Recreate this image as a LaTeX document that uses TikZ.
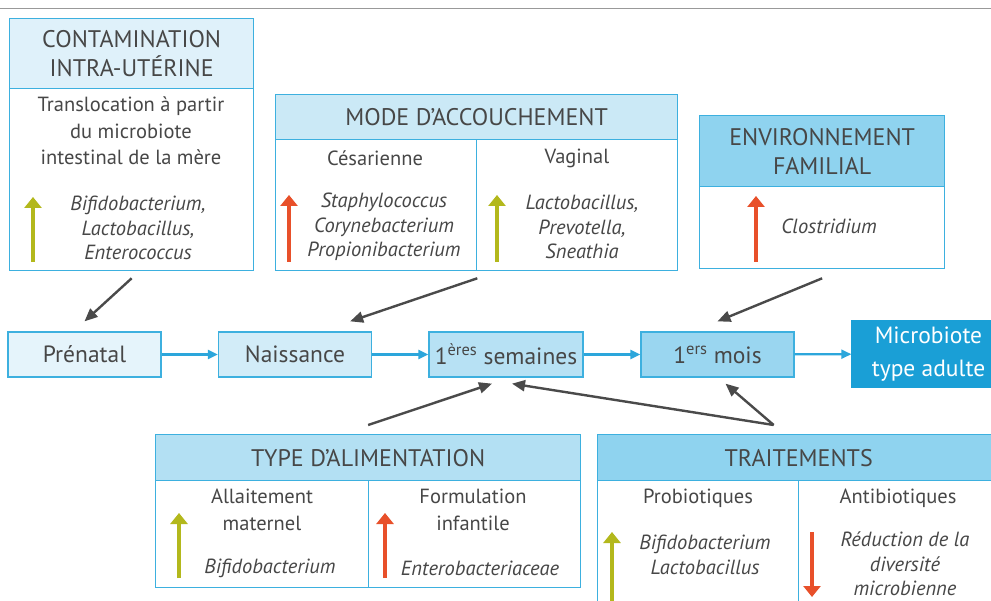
\documentclass[tikz,border=0pt]{standalone}
\usepackage{fontspec}
\setmainfont{PT Sans}
\usepackage{xcolor}
\usetikzlibrary{arrows.meta}
\definecolor{bord}{HTML}{3DB0DF}
\definecolor{txtgray}{HTML}{474747}
\definecolor{hdrpale}{HTML}{DFF1FA}
\definecolor{hdrlight}{HTML}{CBE9F6}
\definecolor{hdrmid}{HTML}{B3E0F3}
\definecolor{hdrdark}{HTML}{8FD3EF}
\definecolor{stepA}{HTML}{E5F4FB}
\definecolor{stepB}{HTML}{D2ECF8}
\definecolor{stepC}{HTML}{B7E1F4}
\definecolor{stepD}{HTML}{9AD6F0}
\definecolor{stepE}{HTML}{1A9FD6}
\definecolor{upgreen}{HTML}{B3B81C}
\definecolor{upred}{HTML}{E8502A}
\definecolor{flowblue}{HTML}{2CA6DB}
\definecolor{infl}{HTML}{4A4A4A}
\newcommand{\hdrsize}{\fontsize{24}{29}\selectfont}
\newcommand{\txtsize}{\fontsize{20.5}{26.5}\selectfont}
\newcommand{\bactsize}{\fontsize{20.5}{24.5}\selectfont\itshape}
\newcommand{\stepsize}{\fontsize{23.5}{33}\selectfont}
\tikzstyle{panel} = [draw=bord, line width=1.3pt, inner sep=0pt, anchor=north west, fill=white]
\tikzstyle{hdr} = [panel, text=txtgray, align=center, font=\hdrsize]
\tikzstyle{txt} = [text=txtgray, align=center, font=\txtsize, inner sep=0pt]
\tikzstyle{bact} = [text=txtgray, align=center, font=\bactsize, inner sep=0pt]
\tikzstyle{stepbox} = [draw=bord, line width=1.3pt, minimum width=153pt, minimum height=45pt, text=txtgray, font=\stepsize, inner sep=0pt]
\tikzstyle{flow} = [draw=flowblue, line width=2.2pt, -{Triangle[length=10pt,width=9pt]}]
\tikzstyle{influence} = [draw=infl, line width=2.4pt, -{Triangle[length=13pt,width=11pt]}]
\tikzstyle{bactarrow} = [line width=3.6pt, -{Triangle[length=11pt,width=17pt]}]

\begin{document}
\begin{tikzpicture}[x=1pt, y=-1pt]
    \useasboundingbox (0,0) rectangle (991,601);
    \clip (0,0) rectangle (991,601);
    \fill[white] (0,0) rectangle (991,601);
    \draw[gray!80, line width=1pt] (0,9) -- (991,9);

    \node[hdr, fill=hdrpale, minimum width=244pt, minimum height=70pt] (contamH) at (9,18) {CONTAMINATION\\INTRA-UTÉRINE};
    \node[panel, minimum width=244pt, minimum height=182pt] (contamB) at (9,88) {};
    \node[txt] (contamTxt) at (131,131) {Translocation à partir\\du microbiote\\intestinal de la mère};
    \node[bact] (contamBact) at (138,228) {Bifidobacterium,\\Lactobacillus,\\Enterococcus};
    \draw[bactarrow, upgreen] (33,262) -- (33,197);

    \node[hdr, fill=hdrlight, minimum width=402pt, minimum height=45pt] (modeH) at (275,94) {MODE D’ACCOUCHEMENT};
    \node[panel, minimum width=201pt, minimum height=131pt] (modeL) at (275,139) {};
    \node[panel, minimum width=201pt, minimum height=131pt] (modeR) at (476,139) {};
    \node[txt] (cesar) at (375,158) {Césarienne};
    \node[txt] (vaginal) at (577,158) {Vaginal};
    \node[bact] (cesarBact) at (384,227) {Staphylococcus\\Corynebacterium\\Propionibacterium};
    \node[bact] (vagBact) at (582,227) {Lactobacillus,\\Prevotella,\\Sneathia};
    \draw[bactarrow, upred] (289,262) -- (289,195);
    \draw[bactarrow, upgreen] (497,262) -- (497,195);

    \node[hdr, fill=hdrdark, minimum width=245pt, minimum height=71pt] (envH) at (699,115) {ENVIRONNEMENT\\FAMILIAL};
    \node[panel, minimum width=245pt, minimum height=82pt] (envB) at (699,186) {};
    \node[bact] (envBact) at (829,226) {Clostridium};
    \draw[bactarrow, upred] (756,262) -- (756,196);

    \node[stepbox, fill=stepA] (prenatal) at (84.5,354.5) {Prénatal};
    \node[stepbox, fill=stepB] (naissance) at (295,354.5) {Naissance};
    \node[stepbox, fill=stepC, minimum width=154pt] (semaines) at (506,354.5) {1\textsuperscript{ères} semaines};
    \node[stepbox, fill=stepD] (mois) at (717.5,354.5) {1\textsuperscript{ers} mois};
    \node[stepbox, draw=stepE, fill=stepE, text=white, align=center, minimum height=66pt] (adulte) at (928.5,354) {Microbiote\\type adulte};
    \draw[flow] (prenatal) -- (naissance);
    \draw[flow] (naissance) -- (semaines);
    \draw[flow] (semaines) -- (mois);
    \draw[flow] (mois) -- (adulte);

    \node[hdr, fill=hdrmid, minimum width=425pt, minimum height=46pt] (typeH) at (155,434) {TYPE D’ALIMENTATION};
    \node[panel, minimum width=213pt, minimum height=107pt] (typeL) at (155,480) {};
    \node[panel, minimum width=212pt, minimum height=107pt] (typeR) at (368,480) {};
    \node[txt] (allait) at (262,510) {Allaitement\\maternel};
    \node[bact] (allaitBact) at (270,568) {Bifidobacterium};
    \node[txt] (formul) at (473,510) {Formulation\\infantile};
    \node[bact] (formulBact) at (480,568) {Enterobacteriaceae};
    \draw[bactarrow, upgreen] (179,578) -- (179,513);
    \draw[bactarrow, upred] (385,578) -- (385,513);

    \node[hdr, fill=hdrdark, minimum width=402pt, minimum height=46pt] (traitH) at (597,434) {TRAITEMENTS};
    \node[panel, minimum width=201pt, minimum height=130pt] (traitL) at (597,480) {};
    \node[panel, minimum width=201pt, minimum height=130pt] (traitR) at (798,480) {};
    \node[txt] (probio) at (698,498) {Probiotiques};
    \node[txt] (antibio) at (898,498) {Antibiotiques};
    \node[bact] (probioBact) at (705,555) {Bifidobacterium\\Lactobacillus};
    \node[bact] (antibioBact) at (905,564) {Réduction de la\\diversité\\microbienne};
    \draw[bactarrow, upgreen] (612,610) -- (612,532);
    \draw[bactarrow, upred] (812,532) -- (812,597);

    \coordinate (traitTop) at ([xshift=-25pt,yshift=9pt]traitH.north);
    \draw[influence] ([yshift=-7pt]contamB.south) -- ([yshift=10pt]prenatal.north);
    \draw[influence] ([yshift=-7pt]modeL.south east) -- ([xshift=-22pt,yshift=10pt]naissance.north east);
    \draw[influence] ([yshift=-9pt]envB.south) -- ([yshift=10pt]mois.north);
    \draw[influence] ([yshift=9pt]typeH.north) -- ([xshift=-14pt,yshift=-6pt]semaines.south);
    \draw[influence] (traitTop) -- ([xshift=6pt,yshift=-6pt]semaines.south);
    \draw[influence] (traitTop) -- ([xshift=8pt,yshift=-6pt]mois.south);
\end{tikzpicture}
\end{document}
